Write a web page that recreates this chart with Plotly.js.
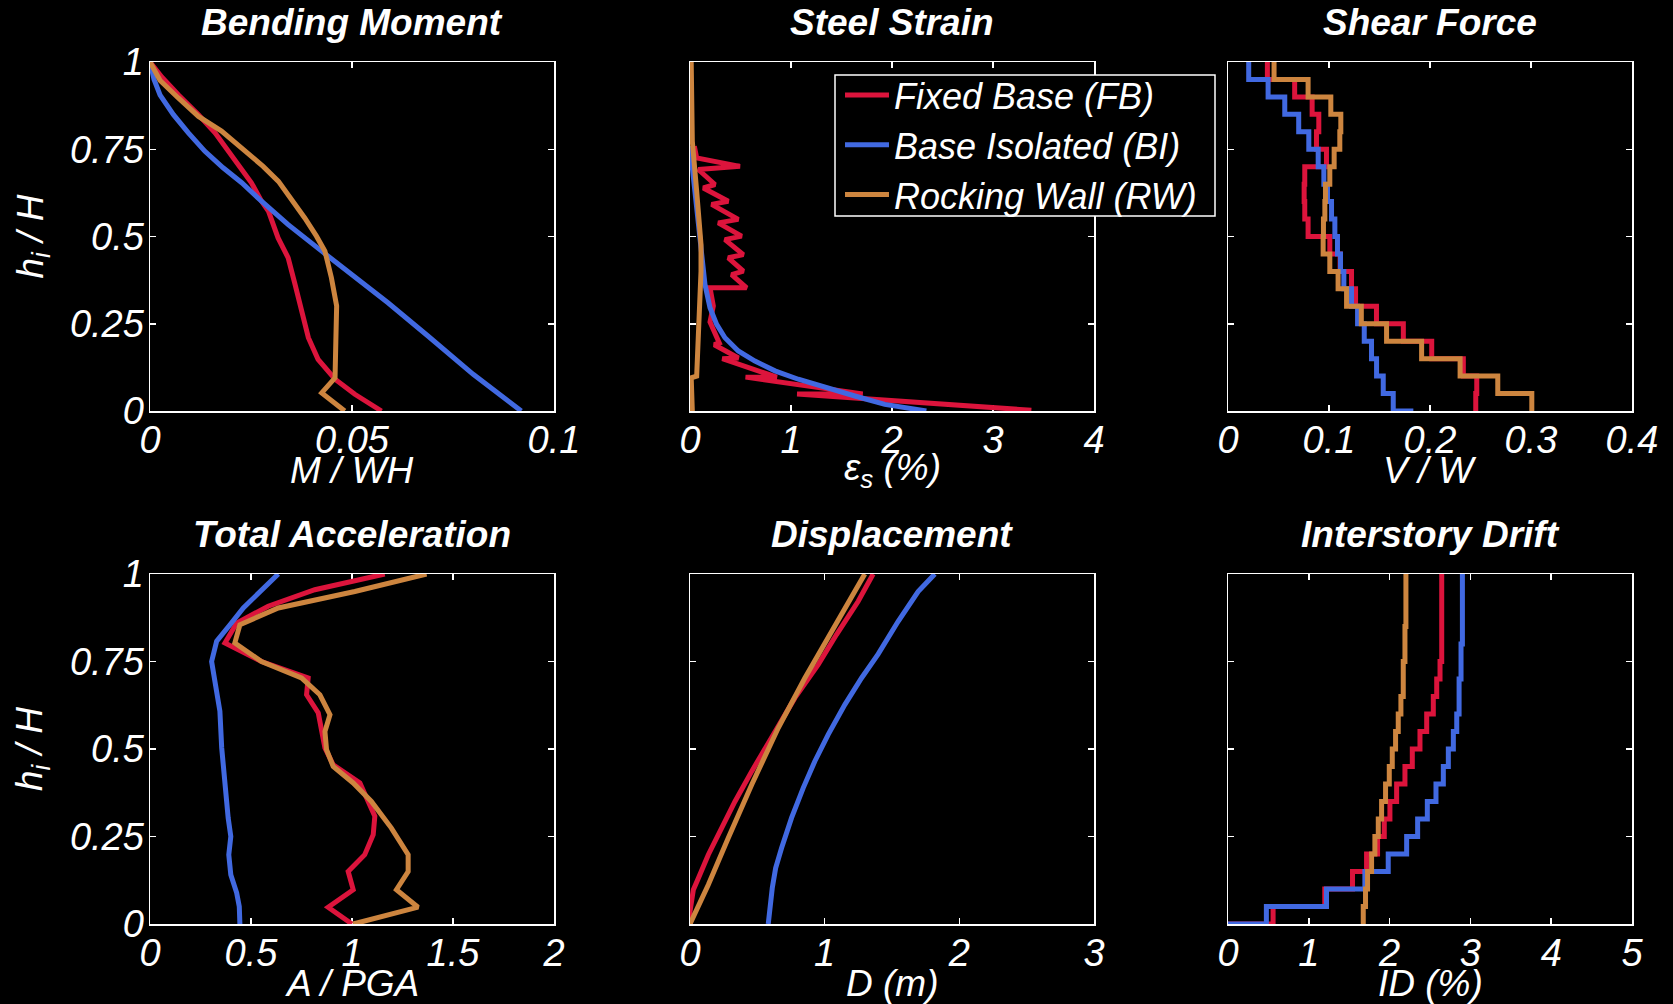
<!DOCTYPE html>
<html>
<head>
<meta charset="utf-8">
<script src="https://cdn.plot.ly/plotly-3.0.1.min.js"></script>
<style>html,body{margin:0;padding:0;background:#000;}</style>
</head>
<body>
<div id="chart" style="width:1673px;height:1004px;"></div>
<script>
// ---------------- DATA ----------------
const seriesNames = ['Fixed Base (FB)', 'Base Isolated (BI)', 'Rocking Wall (RW)'];
const seriesColors = ['#DC143C', '#4169E1', '#CD853F'];

// Bending Moment (M/WH vs h/H)
const bmFB_x = [0, 0.0029, 0.0070, 0.0120, 0.0161, 0.0202, 0.0251, 0.0276, 0.0293, 0.0317, 0.0342, 0.0359, 0.0375, 0.0392, 0.0416, 0.0458, 0.0507, 0.0573];
const bmFB_y = [1, 0.957, 0.906, 0.849, 0.797, 0.730, 0.654, 0.601, 0.573, 0.496, 0.439, 0.363, 0.286, 0.210, 0.148, 0.091, 0.048, 0.0];
const bmBI_x = [0, 0.0010, 0.0025, 0.0058, 0.0095, 0.0136, 0.0181, 0.0227, 0.0276, 0.0342, 0.0425, 0.0499, 0.0589, 0.0688, 0.0800, 0.0919];
const bmBI_y = [1, 0.950, 0.905, 0.849, 0.797, 0.744, 0.697, 0.654, 0.601, 0.534, 0.458, 0.391, 0.310, 0.215, 0.105, 0.0];
const bmRW_x = [0, 0.0025, 0.0070, 0.0120, 0.0177, 0.0227, 0.0280, 0.0318, 0.0351, 0.0383, 0.0412, 0.0433, 0.0449, 0.0462, 0.0460, 0.0458, 0.0425, 0.0482];
const bmRW_y = [1, 0.947, 0.897, 0.844, 0.802, 0.754, 0.701, 0.658, 0.606, 0.553, 0.501, 0.458, 0.382, 0.301, 0.200, 0.095, 0.052, 0.0];

// Steel Strain (eps_s % vs h/H)
const ssFB_x = [0.043, 0.066, 0.495, 0.082, 0.247, 0.132, 0.379, 0.214, 0.478, 0.280, 0.511, 0.346, 0.528, 0.379, 0.528, 0.412, 0.561, 0.198, 0.231, 0.198, 0.290, 0.240, 0.480, 0.320, 0.860, 0.550, 1.710, 1.060, 3.380];
const ssFB_y = [0.759, 0.725, 0.701, 0.692, 0.649, 0.639, 0.601, 0.592, 0.549, 0.539, 0.501, 0.491, 0.448, 0.439, 0.401, 0.391, 0.353, 0.353, 0.301, 0.255, 0.195, 0.190, 0.152, 0.150, 0.097, 0.097, 0.049, 0.049, 0.002];
const ssBI_x = [0, 0.033, 0.076, 0.115, 0.148, 0.198, 0.264, 0.346, 0.478, 0.643, 0.841, 1.072, 1.336, 1.632, 1.929, 2.340];
const ssBI_y = [0.759, 0.668, 0.573, 0.458, 0.363, 0.296, 0.248, 0.210, 0.172, 0.143, 0.115, 0.091, 0.067, 0.043, 0.019, 0.0];
const ssRW_x = [0.012, 0.015, 0.023, 0.066, 0.109, 0.109, 0.089, 0.076, 0.066, 0.012, 0.023];
const ssRW_y = [1.0, 0.850, 0.773, 0.630, 0.477, 0.400, 0.286, 0.172, 0.100, 0.095, 0.0];

// Story levels (top of each story, top to bottom, then base)
const storyLevels = [1.0, 0.95, 0.90, 0.85, 0.80, 0.75, 0.70, 0.65, 0.60, 0.55, 0.50, 0.45, 0.40, 0.35, 0.30, 0.25, 0.20, 0.15, 0.10, 0.05, 0.0];

// Shear Force (V/W), story 20 -> story 1, then base end
const shFB = [0.039, 0.066, 0.0833, 0.0899, 0.0876, 0.0975, 0.076, 0.0754, 0.076, 0.0793, 0.1008, 0.111, 0.1223, 0.1263, 0.147, 0.1736, 0.2017, 0.233, 0.2463, 0.2453, 0.2453];
const shBI = [0.0205, 0.0397, 0.0562, 0.070, 0.080, 0.0893, 0.0949, 0.0985, 0.1025, 0.1058, 0.1084, 0.1114, 0.1147, 0.1223, 0.1283, 0.1349, 0.1421, 0.1471, 0.1537, 0.1636, 0.1835];
const shRW = [0.0456, 0.0793, 0.1018, 0.1117, 0.1107, 0.1051, 0.1008, 0.0965, 0.0959, 0.0945, 0.0942, 0.1008, 0.109, 0.1174, 0.132, 0.157, 0.1917, 0.2298, 0.2671, 0.3008, 0.3008];

// Total Acceleration (A/PGA vs h/H)
const accFB_x = [1.162, 0.816, 0.585, 0.429, 0.371, 0.552, 0.783, 0.775, 0.833, 0.866, 0.907, 1.039, 1.113, 1.105, 1.063, 0.981, 1.006, 0.882, 1.0];
const accFB_y = [1.0, 0.955, 0.908, 0.860, 0.803, 0.750, 0.703, 0.655, 0.603, 0.503, 0.455, 0.403, 0.308, 0.255, 0.198, 0.150, 0.098, 0.048, 0.0];
const accBI_x = [0.635, 0.462, 0.396, 0.330, 0.305, 0.330, 0.346, 0.355, 0.371, 0.387, 0.400, 0.390, 0.400, 0.429, 0.442, 0.445];
const accBI_y = [1.0, 0.903, 0.855, 0.808, 0.750, 0.674, 0.608, 0.503, 0.398, 0.303, 0.250, 0.198, 0.141, 0.089, 0.050, 0.0];
const accRW_x = [1.369, 1.014, 0.635, 0.445, 0.420, 0.552, 0.750, 0.841, 0.891, 0.866, 0.874, 0.907, 1.006, 1.096, 1.195, 1.278, 1.278, 1.220, 1.327, 1.006];
const accRW_y = [1.0, 0.950, 0.903, 0.855, 0.803, 0.750, 0.703, 0.655, 0.598, 0.550, 0.498, 0.450, 0.403, 0.350, 0.274, 0.198, 0.150, 0.098, 0.048, 0.0];

// Displacement (D m vs h/H)
const dFB_x = [1.360, 1.249, 1.088, 0.952, 0.779, 0.631, 0.458, 0.334, 0.210, 0.136, 0.062, 0.025, 0.0, 0.0];
const dFB_y = [1.0, 0.922, 0.827, 0.741, 0.646, 0.550, 0.436, 0.350, 0.255, 0.198, 0.131, 0.098, 0.036, 0.0];
const dBI_x = [1.818, 1.694, 1.546, 1.397, 1.274, 1.150, 1.026, 0.927, 0.841, 0.754, 0.680, 0.636, 0.611, 0.594, 0.581];
const dBI_y = [1.0, 0.950, 0.865, 0.771, 0.703, 0.627, 0.541, 0.465, 0.389, 0.303, 0.217, 0.160, 0.103, 0.046, 0.0];
const dRW_x = [1.298, 1.076, 0.853, 0.655, 0.458, 0.284, 0.136, 0.0];
const dRW_y = [1.0, 0.855, 0.703, 0.560, 0.398, 0.246, 0.112, 0.0];

// Interstory Drift (ID %), story 20 -> story 1, then base end
const idFB = [2.645, 2.645, 2.645, 2.645, 2.645, 2.624, 2.583, 2.541, 2.459, 2.376, 2.281, 2.190, 2.087, 2.004, 1.934, 1.851, 1.715, 1.541, 1.198, 0.558, 0.0];
const idBI = [2.901, 2.901, 2.901, 2.901, 2.884, 2.884, 2.860, 2.860, 2.831, 2.789, 2.727, 2.665, 2.574, 2.467, 2.347, 2.211, 1.983, 1.694, 1.219, 0.475, 0.0];
const idRW = [2.202, 2.202, 2.202, 2.190, 2.190, 2.169, 2.169, 2.140, 2.107, 2.074, 2.033, 1.996, 1.950, 1.901, 1.860, 1.818, 1.777, 1.727, 1.702, 1.674, 1.674];

// Ticks
const yTickVals = [0, 0.25, 0.5, 0.75, 1];
const yTickText = ['0', '0.25', '0.5', '0.75', '1'];
const bmTicks = [0, 0.05, 0.1], bmTickText = ['0', '0.05', '0.1'];
const ssTicks = [0, 1, 2, 3, 4], ssTickText = ['0', '1', '2', '3', '4'];
const shTicks = [0, 0.1, 0.2, 0.3, 0.4], shTickText = ['0', '0.1', '0.2', '0.3', '0.4'];
const accTicks = [0, 0.5, 1, 1.5, 2], accTickText = ['0', '0.5', '1', '1.5', '2'];
const dTicks = [0, 1, 2, 3], dTickText = ['0', '1', '2', '3'];
const idTicks = [0, 1, 2, 3, 4, 5], idTickText = ['0', '1', '2', '3', '4', '5'];

const panelTitles = ['Bending Moment', 'Steel Strain', 'Shear Force', 'Total Acceleration', 'Displacement', 'Interstory Drift'];
const xTitles = ['M / WH', '\u03b5<sub>s</sub> (%)', 'V / W', 'A / PGA', 'D (m)', 'ID (%)'];
const yTitle = 'h<sub>i</sub> / H';

// ---------------- LAYOUT HELPERS ----------------
const FONT = 'Liberation Sans, Arial, Helvetica, sans-serif';
const W = 1673, H = 1004;
const colPx = [[150, 554], [690, 1094], [1228, 1632]];
const rowPx = [[62, 411], [574, 924]];
const colDom = colPx.map(c => [c[0] / W, c[1] / W]);
const rowDom = rowPx.map(r => [1 - r[1] / H, 1 - r[0] / H]);

const tickFont = {family: FONT, size: 38, color: 'white', style: 'italic'};

function xAxis(col, row, range, tv, tt, yName) {
  return {
    domain: colDom[col], range: range, anchor: yName,
    tickmode: 'array', tickvals: tv, ticktext: tt,
    ticks: 'inside', ticklen: 6, tickwidth: 1.5, tickcolor: 'white',
    showline: true, linecolor: 'white', linewidth: 1.5, mirror: 'ticks',
    showgrid: false, zeroline: false, tickfont: tickFont, ticklabelstandoff: -5,
    layer: 'below traces', fixedrange: true, automargin: false
  };
}
function yAxis(col, row, xName) {
  return {
    domain: rowDom[row], range: [0, 1], anchor: xName,
    tickmode: 'array', tickvals: yTickVals, ticktext: yTickText,
    showticklabels: col === 0,
    ticks: 'inside', ticklen: 6, tickwidth: 1.5, tickcolor: 'white',
    showline: true, linecolor: 'white', linewidth: 1.5, mirror: 'ticks',
    showgrid: false, zeroline: false, tickfont: tickFont, ticklabelstandoff: -3,
    layer: 'below traces', fixedrange: true, automargin: false
  };
}

const panels = [
  {col: 0, row: 0, range: [0, 0.1], tv: bmTicks, tt: bmTickText, shape: 'linear',
   xs: [bmFB_x, bmBI_x, bmRW_x], ys: [bmFB_y, bmBI_y, bmRW_y]},
  {col: 1, row: 0, range: [0, 4], tv: ssTicks, tt: ssTickText, shape: 'linear',
   xs: [ssFB_x, ssBI_x, ssRW_x], ys: [ssFB_y, ssBI_y, ssRW_y]},
  {col: 2, row: 0, range: [0, 0.4], tv: shTicks, tt: shTickText, shape: 'vh',
   xs: [shFB, shBI, shRW], ys: [storyLevels, storyLevels, storyLevels]},
  {col: 0, row: 1, range: [0, 2], tv: accTicks, tt: accTickText, shape: 'linear',
   xs: [accFB_x, accBI_x, accRW_x], ys: [accFB_y, accBI_y, accRW_y]},
  {col: 1, row: 1, range: [0, 3], tv: dTicks, tt: dTickText, shape: 'linear',
   xs: [dFB_x, dBI_x, dRW_x], ys: [dFB_y, dBI_y, dRW_y]},
  {col: 2, row: 1, range: [0, 5], tv: idTicks, tt: idTickText, shape: 'vh',
   xs: [idFB, idBI, idRW], ys: [storyLevels, storyLevels, storyLevels]}
];

const traces = [];
const layout = {
  width: W, height: H,
  paper_bgcolor: '#000', plot_bgcolor: '#000',
  margin: {l: 0, r: 0, t: 0, b: 0, pad: 0},
  showlegend: true,
  legend: {
    x: 840 / W, y: 1 - 65 / H, xanchor: 'left', yanchor: 'top',
    bgcolor: 'rgba(0,0,0,0)', borderwidth: 0,
    font: {family: FONT, size: 36, color: 'white', style: 'italic'},
    tracegroupgap: 0, itemwidth: 44
  },
  // legend frame
  shapes: [{
    type: 'rect', xref: 'paper', yref: 'paper', layer: 'above',
    x0: 835 / W, x1: 1215 / W, y0: 1 - 216 / H, y1: 1 - 75 / H,
    line: {color: 'white', width: 1.5}, fillcolor: '#000'
  }],
  annotations: []
};

panels.forEach((p, i) => {
  const n = i + 1;
  const xName = n === 1 ? 'x' : 'x' + n;
  const yName = n === 1 ? 'y' : 'y' + n;
  layout[n === 1 ? 'xaxis' : 'xaxis' + n] = xAxis(p.col, p.row, p.range, p.tv, p.tt, yName);
  layout[n === 1 ? 'yaxis' : 'yaxis' + n] = yAxis(p.col, p.row, xName);
  for (let s = 0; s < 3; s++) {
    traces.push({
      type: 'scatter', mode: 'lines', x: p.xs[s], y: p.ys[s],
      xaxis: xName, yaxis: yName,
      name: seriesNames[s], showlegend: i === 0,
      line: {color: seriesColors[s], width: 5, shape: p.shape},
      hoverinfo: 'skip'
    });
  }
  const cx = (colDom[p.col][0] + colDom[p.col][1]) / 2;
  layout.annotations.push({
    xref: 'paper', yref: 'paper', x: cx, y: p.row === 0 ? 1 - 23 / H : 1 - 534 / H,
    xanchor: 'center', yanchor: 'middle', showarrow: false,
    text: panelTitles[i],
    font: {family: FONT, size: 37, color: 'white', style: 'italic', weight: 'bold'}
  });
  layout.annotations.push({
    xref: 'paper', yref: 'paper', x: cx, y: p.row === 0 ? 1 - 470 / H : 1 - 983 / H,
    xanchor: 'center', yanchor: 'middle', showarrow: false,
    text: xTitles[i],
    font: {family: FONT, size: 37, color: 'white', style: 'italic'}
  });
  if (p.col === 0) {
    const cy = (rowDom[p.row][0] + rowDom[p.row][1]) / 2;
    layout.annotations.push({
      xref: 'paper', yref: 'paper', x: 32 / W, y: cy,
      xanchor: 'center', yanchor: 'middle', showarrow: false, textangle: -90,
      text: yTitle,
      font: {family: FONT, size: 37, color: 'white', style: 'italic'}
    });
  }
});

Plotly.newPlot('chart', traces, layout, {displayModeBar: false, staticPlot: true});
</script>
</body>
</html>
